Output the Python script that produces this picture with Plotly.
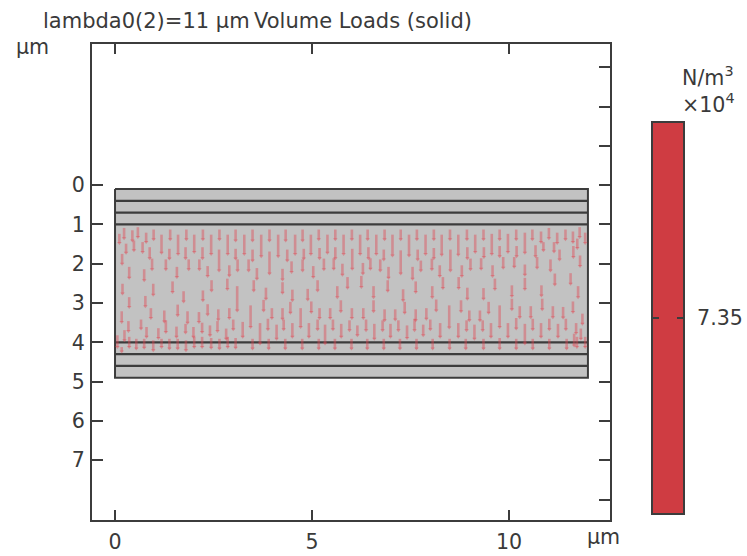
import plotly.graph_objects as go

title_left = "lambda0(2)=11 µm"
title_right = "Volume Loads (solid)"
x_ticks = [0, 5, 10]
y_ticks = [0, 1, 2, 3, 4, 5, 6, 7]
y_right_ticks = [-3, -2, -1, 0, 1, 2, 3, 4, 5, 6, 7, 8]
stack_x = [0, 12]
layer_y = [0.1, 0.4, 0.7, 1.0, 4.0, 4.3, 4.6, 4.9]
load_value = 7.35

arrow_x = [
    .11,.23,.44,.58,.79,.98,1.18,1.40,1.60,1.81,2.01,2.23,2.44,2.65,2.86,
    .28,.48,.70,.88,1.38,1.79,2.22,2.64,.18,.94,1.29,1.87,2.14,
    .36,.74,1.57,2.35,2.90,
    .19,.97,1.46,2.45,2.85,
    .36,.77,1.74,2.23,
    .91,1.59,2.35,2.90,
    .17,1.25,1.84,2.13,2.62,
    .34,.66,1.29,2.21,2.41,2.60,
    .80,.24,1.10,1.56,1.79,1.99,2.82,
    .06,.36,.54,.74,.97,1.18,1.38,1.59,1.80,2.01,2.21,2.44,2.65,2.86,.17,
    3.06,3.28,3.49,3.71,3.92,4.14,4.33,4.57,4.76,4.97,5.17,5.39,5.59,5.80,6.01,
    3.06,3.49,3.92,4.37,4.79,5.19,5.59,6.02,
    3.11,3.39,3.60,4.48,4.76,5.30,5.55,5.77,
    4.25,5.03,5.90,
    3.52,4.25,5.14,
    3.10,3.83,4.50,4.89,5.64,
    3.77,4.98,5.73,
    3.44,3.98,4.25,4.45,4.71,5.19,5.46,6.01,
    3.00,3.88,4.28,5.14,5.53,5.95,
    3.24,3.68,4.10,4.50,4.92,5.33,5.74,
    3.06,3.49,3.90,4.32,4.75,5.17,5.58,6.00,
    6.22,6.41,6.63,6.84,7.04,7.25,7.46,7.66,7.88,8.09,8.29,8.50,8.71,8.93,
    6.43,6.82,7.25,7.68,8.09,8.51,8.94,
    6.29,6.48,6.73,7.76,8.04,8.24,8.80,9.02,
    6.94,7.55,
    6.25,6.92,7.63,8.32,8.72,
    6.56,7.31,8.05,8.94,
    6.56,8.15,8.78,7.35,
    6.30,6.84,7.11,7.63,7.90,8.48,8.99,
    6.37,6.79,7.19,7.60,8.00,8.92,
    6.15,6.58,6.99,7.41,7.82,8.25,8.71,
    6.40,6.82,7.23,7.65,8.06,8.49,8.90,
    9.14,9.35,9.56,9.76,9.97,10.18,10.40,10.59,10.81,11.01,11.22,11.43,11.62,11.79,11.93,
    10.87,11.73,
    9.36,9.76,10.19,10.67,11.14,11.28,11.63,
    9.29,9.85,10.13,10.71,11.05,11.80,
    9.58,10.40,11.16,11.56,
    9.64,10.40,
    9.35,10.07,10.82,11.75,
    10.07,10.84,9.48,11.62,
    9.26,9.76,10.27,10.55,11.11,11.37,
    9.33,10.18,10.60,11.02,11.44,11.86,
    9.12,9.54,9.97,10.40,10.81,11.24,11.70,
    11.65,11.82,
    9.35,9.76,10.18,10.60,11.02,11.46,11.72,11.93,
]
arrow_tail = [
    1.24,1.09,1.15,1.07,1.21,1.13,1.26,1.13,1.26,1.13,1.26,1.13,1.26,1.13,1.26,
    1.49,1.41,1.45,1.58,1.62,1.58,1.58,1.64,1.75,1.87,1.89,1.89,1.89,
    2.08,2.14,2.08,2.06,2.04,
    2.51,2.51,2.45,2.42,2.38,
    2.85,2.82,2.70,2.68,
    3.13,3.04,3.03,3.13,
    3.21,3.19,3.21,3.23,3.16,
    3.46,3.42,3.44,3.50,3.57,3.46,
    3.61,3.69,3.64,3.60,3.53,3.61,3.65,
    3.82,3.86,3.91,3.91,3.95,3.91,3.91,3.91,3.95,3.86,3.86,3.89,3.91,3.86,4.12,
    1.13,1.26,1.13,1.26,1.13,1.26,1.13,1.26,1.13,1.26,1.13,1.26,1.13,1.26,1.13,
    1.62,1.64,1.69,1.64,1.62,1.60,1.58,1.62,
    1.89,1.89,2.11,1.94,1.89,1.87,1.86,2.00,
    2.13,2.06,2.34,
    2.42,2.47,2.42,
    2.57,2.61,2.66,2.64,2.57,
    2.92,2.96,2.93,
    3.06,3.13,3.13,2.97,3.13,3.13,3.13,3.13,
    3.42,3.40,3.42,3.42,3.42,3.44,
    3.48,3.51,3.55,3.51,3.51,3.55,3.53,
    3.89,3.91,3.91,3.91,3.91,3.91,3.91,3.91,
    1.26,1.13,1.26,1.13,1.26,1.13,1.26,1.13,1.26,1.13,1.26,1.13,1.26,1.13,
    1.58,1.64,1.66,1.64,1.60,1.64,1.58,
    1.98,1.86,1.89,1.92,1.87,2.04,2.04,1.87,
    2.08,2.08,
    2.31,2.42,2.45,2.34,2.34,
    2.57,2.65,2.57,2.61,
    2.93,2.91,2.93,2.97,
    3.13,3.16,3.16,3.16,3.13,3.06,3.19,
    3.42,3.44,3.44,3.40,3.42,3.44,
    3.57,3.53,3.53,3.57,3.55,3.51,3.51,
    3.91,3.91,3.91,3.91,3.91,3.91,3.91,
    1.26,1.13,1.24,1.13,1.24,1.13,1.21,1.13,1.18,1.09,1.21,1.13,1.18,1.07,1.21,
    1.45,1.36,
    1.58,1.55,1.55,1.53,1.45,1.64,1.55,
    1.86,1.83,1.83,1.83,1.89,1.79,
    2.04,2.02,2.25,2.24,
    2.38,2.36,
    2.62,2.55,2.55,2.57,
    2.89,2.89,2.97,2.96,
    3.19,3.06,3.08,3.08,3.08,3.10,
    3.44,3.38,3.40,3.40,3.40,3.27,
    3.55,3.51,3.51,3.53,3.51,3.53,3.51,
    3.78,3.65,
    3.91,3.89,3.91,3.91,3.91,3.91,3.86,3.86,
]
arrow_tip = [
    1.47,1.35,1.41,1.32,1.45,1.38,1.72,1.38,1.75,1.38,1.70,1.38,1.75,1.38,1.75,
    1.72,1.66,1.70,1.86,1.87,1.86,1.86,2.17,2.00,2.14,2.14,2.14,2.14,
    2.36,2.42,2.34,2.31,2.30,
    2.76,2.79,2.72,2.68,2.64,
    3.10,3.08,2.96,2.93,
    3.38,3.31,3.29,3.38,
    3.48,3.47,3.50,3.48,3.42,
    3.71,3.65,3.74,3.74,3.82,3.71,
    3.86,3.95,3.89,3.86,3.75,3.86,3.91,
    4.12,4.12,4.16,4.14,4.20,4.12,4.16,4.16,4.20,4.12,4.12,4.14,4.16,4.12,4.23,
    1.41,1.75,1.41,1.81,1.41,1.81,1.41,1.75,1.41,1.75,1.38,1.72,1.38,1.75,1.38,
    1.87,1.92,2.25,1.92,1.87,1.86,1.86,2.13,
    2.17,2.17,2.38,2.21,2.17,2.14,2.13,2.28,
    2.40,2.34,2.61,
    2.68,2.74,2.68,
    3.19,2.89,2.93,2.91,2.85,
    3.19,3.23,3.21,
    3.61,3.38,3.40,3.25,3.61,3.38,3.38,3.38,
    3.67,3.67,3.67,3.67,3.67,3.69,
    3.86,4.03,3.91,3.86,3.86,4.03,3.86,
    4.14,4.16,4.16,4.16,4.16,4.16,4.16,4.16,
    1.75,1.38,1.75,1.38,1.79,1.38,1.79,1.38,1.75,1.38,1.77,1.38,1.77,1.38,
    1.86,1.89,2.25,1.89,1.86,2.17,1.86,
    2.25,2.13,2.17,2.17,2.14,2.31,2.31,2.14,
    2.36,2.38,
    2.59,2.69,2.72,2.62,2.62,
    2.85,2.93,2.85,2.89,
    3.21,3.19,3.21,3.25,
    3.38,3.44,3.42,3.44,3.40,3.62,3.44,
    3.69,3.69,3.69,3.69,3.67,3.69,
    3.82,3.91,3.86,3.89,3.82,3.86,3.86,
    4.16,4.16,4.16,4.16,4.16,4.16,4.16,
    1.70,1.38,1.75,1.38,1.70,1.38,1.72,1.38,1.45,1.35,1.47,1.38,1.45,1.32,1.47,
    1.66,1.60,
    1.83,1.81,1.81,1.81,1.69,1.89,1.83,
    2.13,2.10,2.08,2.10,2.17,2.06,
    2.31,2.28,2.53,2.51,
    2.64,2.64,
    2.89,2.82,2.81,2.85,
    3.16,3.16,3.25,3.23,
    3.44,3.61,3.36,3.36,3.36,3.37,
    3.69,3.65,3.67,3.67,3.67,3.53,
    3.91,3.86,3.86,4.03,3.86,3.86,3.76,
    4.08,3.91,
    4.16,4.16,4.16,4.16,4.16,4.16,4.12,4.12,
]

INK = "#3c3c3c"
TEXT = "#3a3a3a"
ARROW = "rgba(226,70,80,0.42)"
FONT = "DejaVu Sans"

fig = go.Figure()

# gray stack body
fig.add_trace(go.Scatter(
    x=[stack_x[0], stack_x[1], stack_x[1], stack_x[0], stack_x[0]],
    y=[layer_y[0], layer_y[0], layer_y[-1], layer_y[-1], layer_y[0]],
    mode="lines", fill="toself", fillcolor="#c2c2c2",
    line=dict(color=INK, width=2), hoverinfo="skip", showlegend=False))

# layer boundaries
lx, ly = [], []
for y in layer_y[1:-1]:
    lx += [stack_x[0], stack_x[1], None]
    ly += [y, y, None]
fig.add_trace(go.Scatter(x=lx, y=ly, mode="lines",
                         line=dict(color=INK, width=2.2),
                         hoverinfo="skip", showlegend=False))

# load arrows
sx, sy = [], []
for x, a, b in zip(arrow_x, arrow_tail, arrow_tip, strict=True):
    sx += [x, x, None]
    sy += [a, b, None]
fig.add_trace(go.Scatter(x=sx, y=sy, mode="lines",
                         line=dict(color=ARROW, width=2.6),
                         hoverinfo="skip", showlegend=False))
fig.add_trace(go.Scatter(x=arrow_x, y=arrow_tip, mode="markers",
                         marker=dict(symbol="triangle-down", size=4, color=ARROW, line_width=0),
                         hoverinfo="skip", showlegend=False))

# carrier for the right-hand tick axis
fig.add_trace(go.Scatter(x=[None], y=[None], xaxis="x", yaxis="y3", showlegend=False))

# constant load colour bar
fig.add_trace(go.Heatmap(z=[[load_value]], x=[0], y=[load_value], dx=1, dy=0.1,
                         xaxis="x2", yaxis="y2", showscale=False, hoverinfo="skip",
                         colorscale=[[0, "#cf3c42"], [1, "#cf3c42"]]))

main_x_end = (610 - 92) / (683 - 92)
yrange = [8.52, -3.59]
axis = dict(showgrid=False, zeroline=False, showline=True, linecolor=INK, linewidth=2,
            tickcolor=INK, tickwidth=1.6, ticks="inside", automargin=False,
            tickfont=dict(family=FONT, size=20.6, color=TEXT))

fig.update_layout(
    width=747, height=556, autosize=False,
    margin=dict(l=92, r=64, t=44, b=36, pad=0),
    paper_bgcolor="white", plot_bgcolor="white", showlegend=False,
    xaxis=dict(axis, domain=[0, main_x_end], range=[-0.584, 12.56],
               tickvals=x_ticks, ticklen=10, mirror="ticks", ticklabelstandoff=2),
    yaxis=dict(axis, domain=[0, 1], range=yrange, tickvals=y_ticks,
               ticklen=11, mirror=True, ticklabelstandoff=1),
    yaxis3=dict(axis, overlaying="y", side="right", anchor="x", range=yrange,
                tickvals=y_right_ticks, ticklen=11, showticklabels=False, showline=False),
    xaxis2=dict(axis, domain=[(653 - 92) / (683 - 92), 1], range=[-0.5, 0.5],
                anchor="y2", ticks="", showticklabels=False, mirror=True),
    yaxis2=dict(axis, domain=[7 / 476, 397 / 476], range=[load_value - 0.05, load_value + 0.05],
                anchor="x2", side="right", tickvals=[load_value], ticktext=["7.35"],
                ticklen=6, mirror="ticks", ticklabelstandoff=8),
)

def label(text, x, y, anchor="left", size=20.6):
    fig.add_annotation(text=text, x=x, y=y, xref="paper", yref="paper", xanchor=anchor,
                       yanchor="middle", showarrow=False, align="left",
                       font=dict(family=FONT, size=size, color=TEXT),
                       borderpad=0, borderwidth=0)

def px(x):
    return (x - 92) / (683 - 92)

def py(y):
    return (520 - y) / 476

label(title_left, px(43), py(21), size=21)
label(title_right, px(254), py(21), size=21)
label("µm", px(16), py(47))
label("µm", px(587), py(537))
label("N/m<sup>3</sup>", px(682), py(76))
label("×10<sup>4</sup>", px(682), py(103))

fig.write_html("out.html", config={"displayModeBar": False},
               post_script="document.body.style.margin='0';document.documentElement.style.overflow='hidden';")
